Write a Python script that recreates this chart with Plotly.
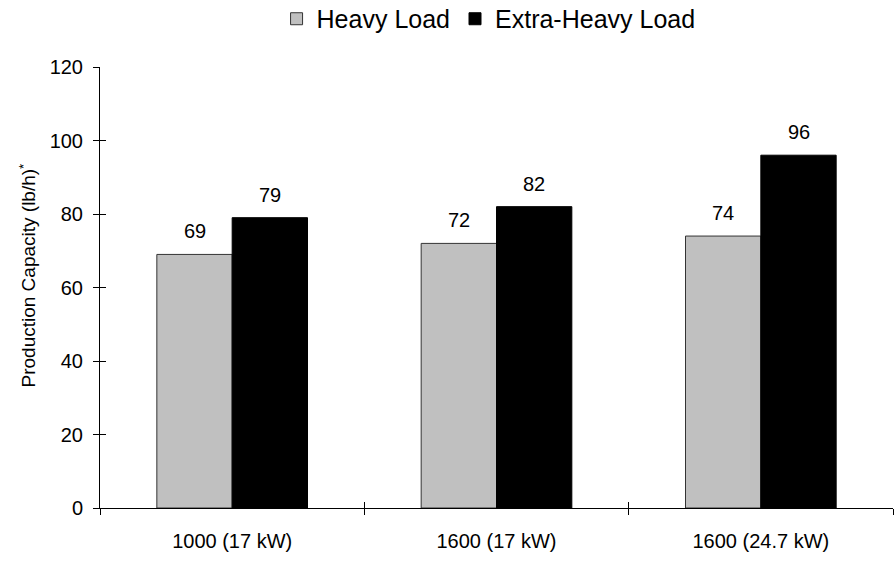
import plotly.graph_objects as go

categories = ["1000 (17 kW)", "1600 (17 kW)", "1600 (24.7 kW)"]
heavy = [69, 72, 74]
extra_heavy = [79, 82, 96]
y_ticks = [0, 20, 40, 60, 80, 100, 120]
series = [("Heavy Load", heavy, "#C0C0C0", "#333333"),
          ("Extra-Heavy Load", extra_heavy, "#000000", "#000000")]

FONT = "Liberation Sans, Arial, sans-serif"
BARGAP = 0.43

fig = go.Figure()
for name, vals, fill, edge in series:
    fig.add_trace(go.Bar(
        name=name, x=categories, y=vals,
        marker=dict(color=fill, line=dict(color=edge, width=1)),
    ))

# value labels placed over each grouped bar through the overlay (numeric) x axis
bar_w = (1 - BARGAP) / len(series)
annotations = []
for j, (name, vals, fill, edge) in enumerate(series):
    for i, v in enumerate(vals):
        annotations.append(dict(
            xref="x2", yref="y", x=i + (j - (len(series) - 1) / 2) * bar_w, y=v,
            text=str(v), showarrow=False, yanchor="bottom", yshift=10,
            font=dict(size=20, color="black", family=FONT),
        ))
annotations.append(dict(
    xref="paper", yref="paper", x=0, y=0.5, xanchor="center", yanchor="middle",
    xshift=-73, yshift=12, textangle=-90, showarrow=False,
    text="Production Capacity (lb/h)<sup>*</sup>",
    font=dict(size=19, color="black", family=FONT),
))

fig.update_layout(
    width=896, height=562,
    margin=dict(l=100, r=3, t=67, b=54, autoexpand=False),
    paper_bgcolor="white", plot_bgcolor="white",
    font=dict(family=FONT, color="black"),
    barmode="group", bargap=BARGAP, bargroupgap=0,
    showlegend=True,
    annotations=annotations,
    legend=dict(orientation="h", xref="paper", x=0.49, xanchor="center",
                yref="paper", y=1.161, yanchor="top",
                font=dict(size=25, color="black", family=FONT),
                itemwidth=30, traceorder="normal", bgcolor="rgba(0,0,0,0)"),
    xaxis=dict(type="category", showline=True, linecolor="black", linewidth=1,
               ticks="outside", ticklen=6, tickcolor="black", tickson="boundaries",
               showgrid=False, tickfont=dict(size=20, color="black"), zeroline=False,
               ticklabelstandoff=15),
    yaxis=dict(range=[0, 120], tickvals=y_ticks, showline=True, linecolor="black", linewidth=1,
               ticks="outside", ticklen=6, tickcolor="black", showgrid=False, zeroline=False,
               tickfont=dict(size=20, color="black"), ticklabelstandoff=6),
    xaxis2=dict(overlaying="x", anchor="y2", range=[-0.5, 2.5], tickvals=[-0.5, 0.5, 1.5, 2.5],
                ticks="inside", ticklen=6, tickcolor="black", showticklabels=False,
                showgrid=False, zeroline=False, showline=False, side="bottom"),
    yaxis2=dict(overlaying="y", anchor="x2", range=[0, 120], tickvals=y_ticks,
                ticks="inside", ticklen=6, tickcolor="black", showticklabels=False,
                showgrid=False, zeroline=False, showline=False, side="left"),
)
# invisible helper trace to activate the overlay axes for inner tick marks
fig.add_trace(go.Scatter(x=[None], y=[None], xaxis="x2", yaxis="y2", showlegend=False, hoverinfo="skip"))

fig.write_html("out.html")
